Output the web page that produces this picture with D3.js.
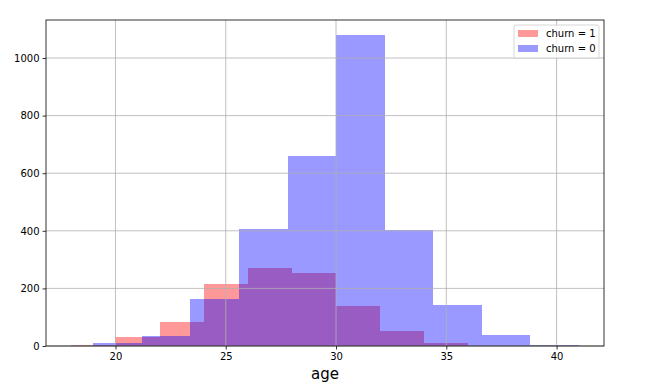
<!DOCTYPE html>
<html>
<head>
<meta charset="utf-8">
<script src="https://cdn.jsdelivr.net/npm/d3@7"></script>
<style>
body { margin: 0; background: #fff; }
text { font-family: 'DejaVu Sans', sans-serif; }
</style>
</head>
<body>
<script>
// histogram bins
var churn1Edges = [18, 20, 22, 24, 26, 28, 30, 32, 34, 36, 38];
var churn1Counts = [4, 31, 83, 215, 271, 253, 139, 52, 10, 1];
var churn0Edges = [19, 21.2, 23.4, 25.6, 27.8, 30, 32.2, 34.4, 36.6, 38.8, 41];
var churn0Counts = [10, 35, 163, 406, 660, 1080, 403, 142, 38, 5];
var xTicks = [20, 25, 30, 35, 40];
var yTicks = [0, 200, 400, 600, 800, 1000];

var W = 651, H = 389;
var margin = {left: 46, right: 47, top: 20, bottom: 43};

var svg = d3.select('body').append('svg')
    .attr('width', W)
    .attr('height', H);

var x = d3.scaleLinear().domain([16.85, 42.15]).range([margin.left, W - margin.right]);
var y = d3.scaleLinear().domain([0, 1132]).range([H - margin.bottom, margin.top]);

function bins(edges, counts) {
    return counts.map(function (c, i) { return {x0: edges[i], x1: edges[i + 1], n: c}; });
}

var series = [
    {name: 'churn = 1', color: 'red', data: bins(churn1Edges, churn1Counts)},
    {name: 'churn = 0', color: 'blue', data: bins(churn0Edges, churn0Counts)}
];

series.forEach(function (s) {
    svg.append('g')
        .attr('shape-rendering', 'crispEdges')
        .selectAll('rect')
        .data(s.data)
        .enter()
        .append('rect')
        .attr('x', function (d) { return Math.round(x(d.x0)); })
        .attr('width', function (d) { return Math.round(x(d.x1)) - Math.round(x(d.x0)); })
        .attr('y', function (d) { return y(d.n); })
        .attr('height', function (d) { return y(0) - y(d.n); })
        .style('fill', s.color)
        .style('fill-opacity', 0.4);
});

// grid sits on top of the bars
var grid = svg.append('g').style('stroke', '#b0b0b0').style('stroke-width', 0.8);
grid.selectAll('.gx').data(xTicks).enter().append('line')
    .attr('x1', function (d) { return x(d); })
    .attr('x2', function (d) { return x(d); })
    .attr('y1', margin.top)
    .attr('y2', H - margin.bottom);
grid.selectAll('.gy').data(yTicks).enter().append('line')
    .attr('y1', function (d) { return y(d); })
    .attr('y2', function (d) { return y(d); })
    .attr('x1', margin.left)
    .attr('x2', W - margin.right);

var xAxis = svg.append('g')
    .attr('transform', 'translate(0,' + (H - margin.bottom) + ')')
    .call(d3.axisBottom(x).tickValues(xTicks).tickSize(3.5).tickPadding(3).tickFormat(d3.format('d')));
var yAxis = svg.append('g')
    .attr('transform', 'translate(' + margin.left + ',0)')
    .call(d3.axisLeft(y).tickValues(yTicks).tickSize(3.5).tickPadding(3).tickFormat(d3.format('d')));
[xAxis, yAxis].forEach(function (a) {
    a.select('.domain').remove();
    a.selectAll('text').style('font-size', '10px').style('font-family', 'DejaVu Sans').attr('fill', '#000');
    a.selectAll('line').attr('stroke', '#000').attr('stroke-width', 0.8);
});

svg.append('rect')
    .attr('x', margin.left)
    .attr('y', margin.top)
    .attr('width', W - margin.left - margin.right)
    .attr('height', H - margin.top - margin.bottom)
    .style('fill', 'none')
    .style('stroke', '#000')
    .style('stroke-width', 0.8);

svg.append('text')
    .attr('x', (margin.left + W - margin.right) / 2)
    .attr('y', 379)
    .attr('text-anchor', 'middle')
    .style('font-size', '15px')
    .text('age');

// legend
var lg = svg.append('g').attr('transform', 'translate(514,25)');
lg.append('rect')
    .attr('width', 85).attr('height', 33).attr('rx', 2)
    .style('fill', '#fff').style('fill-opacity', 0.8)
    .style('stroke', '#ccc').style('stroke-width', 0.8);
series.forEach(function (s, i) {
    lg.append('rect')
        .attr('x', 4).attr('y', 5 + i * 15)
        .attr('width', 20).attr('height', 7)
        .style('fill', s.color).style('fill-opacity', 0.4);
    lg.append('text')
        .attr('x', 32).attr('y', 12 + i * 15)
        .style('font-size', '10px')
        .text(s.name);
});
</script>
</body>
</html>
